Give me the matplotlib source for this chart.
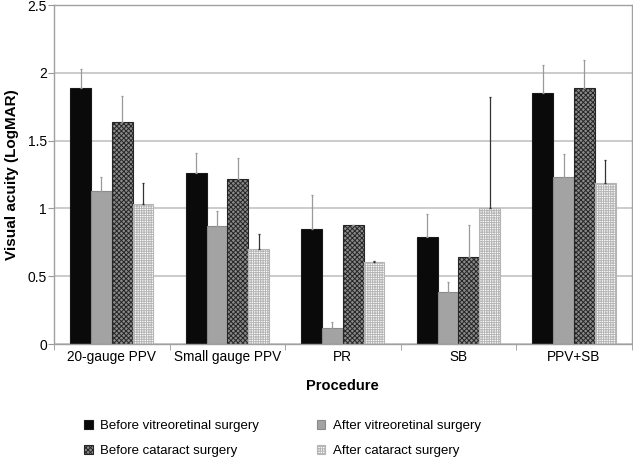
import numpy as np
import matplotlib
matplotlib.use("Agg")
import matplotlib.pyplot as plt

plt.rcParams['font.family'] = ['Liberation Sans', 'DejaVu Sans']
plt.rcParams['hatch.linewidth'] = 0.7

procedures = ['20-gauge PPV', 'Small gauge PPV', 'PR', 'SB', 'PPV+SB']
series_names = ['Before vitreoretinal surgery', 'After vitreoretinal surgery',
                'Before cataract surgery', 'After cataract surgery']

before_vr = [1.89, 1.26, 0.85, 0.79, 1.85]
before_vr_err = [0.14, 0.15, 0.25, 0.17, 0.21]
after_vr = [1.13, 0.87, 0.12, 0.38, 1.23]
after_vr_err = [0.105, 0.11, 0.04, 0.08, 0.17]
before_cat = [1.64, 1.22, 0.875, 0.64, 1.885]
before_cat_err = [0.19, 0.15, 0.0, 0.24, 0.21]
after_cat = [1.03, 0.70, 0.605, 1.00, 1.19]
after_cat_err = [0.155, 0.11, 0.005, 0.82, 0.17]

values = [before_vr, after_vr, before_cat, after_cat]
errors = [before_vr_err, after_vr_err, before_cat_err, after_cat_err]

# styling per series
faces = ['#0a0a0a', '#a3a3a3', '#8a8a8a', 'white']
edges = ['#1a1a1a', '#8a8a8a', '#262626', '#b5b5b5']
hatches = [None, None, 'xxxxxxx', '+++++++']
ecolors = ['#9a9a9a', '#9a9a9a', '#9a9a9a', '#333333']

fig = plt.figure(figsize=(6.33, 4.59), dpi=100)
ax = fig.add_axes([0.0853, 0.2505, 0.9127, 0.7385])

x = np.arange(len(procedures))
w = 0.18
handles = []
for i in range(4):
    pos = x + (i - 1.5) * w
    b = ax.bar(pos, values[i], w, color=faces[i], edgecolor=edges[i],
               hatch=hatches[i], linewidth=0.8, label=series_names[i], zorder=2)
    handles.append(b)
    ax.errorbar(pos, values[i], yerr=[np.zeros(len(x)), errors[i]], fmt='none',
                ecolor=ecolors[i], elinewidth=0.9, capsize=1.0, capthick=0.9, zorder=3)

ax.set_xlim(-0.5, len(procedures) - 0.5)
ax.set_ylim(0, 2.5)
ax.set_yticks([0, 0.5, 1, 1.5, 2, 2.5])
ax.set_yticklabels(['0', '0.5', '1', '1.5', '2', '2.5'], fontsize=10)
ax.yaxis.grid(True, color='#bdbdbd', linewidth=1.1, zorder=0)
ax.set_axisbelow(True)

ax.set_xticks(x)
ax.set_xticklabels(procedures, fontsize=9.8)
ax.tick_params(axis='x', length=0, pad=4)
ax.set_xticks(np.arange(len(procedures) + 1) - 0.5, minor=True)
ax.tick_params(axis='x', which='minor', length=4, color='#999999')
ax.tick_params(axis='y', length=4, color='#999999', pad=1)

for s in ax.spines.values():
    s.set_color('#a0a0a0')
    s.set_linewidth(1.0)

ax.set_ylabel('Visual acuity (LogMAR)', fontsize=11, fontweight='bold', labelpad=6)
ax.set_xlabel('Procedure', fontsize=10.5, fontweight='bold', labelpad=11)

order = [0, 2, 1, 3]
leg = fig.legend([handles[k] for k in order], [series_names[k] for k in order],
                 loc='lower left', bbox_to_anchor=(0.114, -0.022), ncol=2, frameon=False,
                 fontsize=9.5, handlelength=0.65, handleheight=0.65, handletextpad=0.55,
                 columnspacing=4.4, labelspacing=1.0)

fig.savefig('out.png', dpi=100)
